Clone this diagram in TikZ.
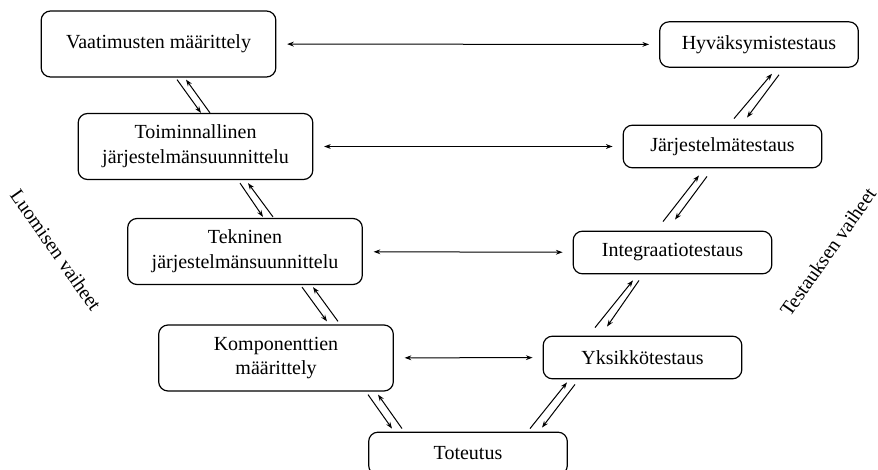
\documentclass[tikz,border=0pt]{standalone}
\usepackage{fontspec}
\setmainfont{Liberation Serif}
\usepackage{tikz}
\usetikzlibrary{arrows.meta, calc}

\tikzset{
  vaihe/.style={draw, rounded corners=7pt, line width=0.9pt, align=center,
    minimum width=176pt, minimum height=49.5pt, inner sep=2pt},
  testi/.style={vaihe, minimum width=149pt, minimum height=32pt},
  nuoli/.style={->, line width=0.75pt},
  yhteys/.style={<->, line width=0.75pt, shorten <=8pt, shorten >=7.5pt}
}

\begin{document}
\begin{tikzpicture}[x=0.75pt, y=-0.75pt, >={Stealth[length=5pt,width=3.6pt]},
    font=\fontsize{15}{18.5}\selectfont]
  \useasboundingbox (0,0) rectangle (878,470);

  % Luomisen vaiheet
  \node[vaihe] (vaat) at (158.5,44) {Vaatimusten määrittely};
  \node[vaihe] (toim) at (195.5,146.5) {Toiminnallinen\\järjestelmänsuunnittelu};
  \node[vaihe] (tekn) at (245,251.5) {Tekninen\\järjestelmänsuunnittelu};
  \node[vaihe] (komp) at (276,358) {Komponenttien\\määrittely};
  \node[testi] (tot) at (468,453.5) {Toteutus};

  % Testauksen vaiheet
  \node[testi, minimum height=34pt] (hyv) at (759,44.5) {Hyväksymistestaus};
  \node[testi] (jarj) at (722.5,146.5) {Järjestelmätestaus};
  \node[testi] (int) at (672.5,252.5) {Integraatiotestaus};
  \node[testi] (yks) at (642.5,357.5) {Yksikkötestaus};

  % Sivuotsikot
  \node[rotate=-55, inner sep=0pt] (luo) at (56,250) {Luomisen vaiheet};
  \node[rotate=55, inner sep=0pt] (tes) at (828,252) {Testauksen vaiheet};

  % Vaakasuorat yhteydet
  \draw[yhteys] (vaat) -- (hyv);
  \draw[yhteys] (toim) -- (jarj);
  \draw[yhteys] (tekn) -- (int);
  \draw[yhteys] (komp) -- (yks);

  % Vasen puoli alas
  \draw[nuoli] ($(vaat.south)+(18.5,2)$) -- ($(toim.north)+(5.5,0)$);
  \draw[nuoli] ($(toim.north)+(14.5,0)$) -- ($(vaat.south)+(27.5,2)$);
  \draw[nuoli] ($(toim.south)+(44.5,3)$) -- ($(tekn.north)+(18,-1)$);
  \draw[nuoli] ($(tekn.north)+(28,-1)$) -- ($(toim.south)+(52.5,3)$);
  \draw[nuoli] ($(tekn.south)+(57,2)$) -- ($(komp.north)+(51,-3)$);
  \draw[nuoli] ($(komp.north)+(62,-3)$) -- ($(tekn.south)+(68,2)$);
  \draw[nuoli] ($(komp.south)+(92,3)$) -- ($(tot.north)+(-76,-3)$);
  \draw[nuoli] ($(tot.north)+(-66,-3)$) -- ($(komp.south)+(102,3)$);

  % Oikea puoli ylos
  \draw[nuoli] ($(tot.north)+(62,-3)$) -- ($(yks.south)+(-75.5,3)$);
  \draw[nuoli] ($(yks.south)+(-67.5,5)$) -- ($(tot.north)+(74,-4)$);
  \draw[nuoli] ($(yks.north)+(-47.5,-8)$) -- ($(int.south)+(-39.5,6)$);
  \draw[nuoli] ($(int.south)+(-33.5,6)$) -- ($(yks.north)+(-35.5,-9)$);
  \draw[nuoli] ($(int.north)+(-9.5,-9)$) -- ($(jarj.south)+(-23.5,7)$);
  \draw[nuoli] ($(jarj.south)+(-15.5,8)$) -- ($(int.north)+(2.5,-11)$);
  \draw[nuoli] ($(jarj.north)+(11.5,-6)$) -- ($(hyv.south)+(13,6)$);
  \draw[nuoli] ($(hyv.south)+(20,7)$) -- ($(jarj.north)+(24.5,-7)$);
\end{tikzpicture}
\end{document}
